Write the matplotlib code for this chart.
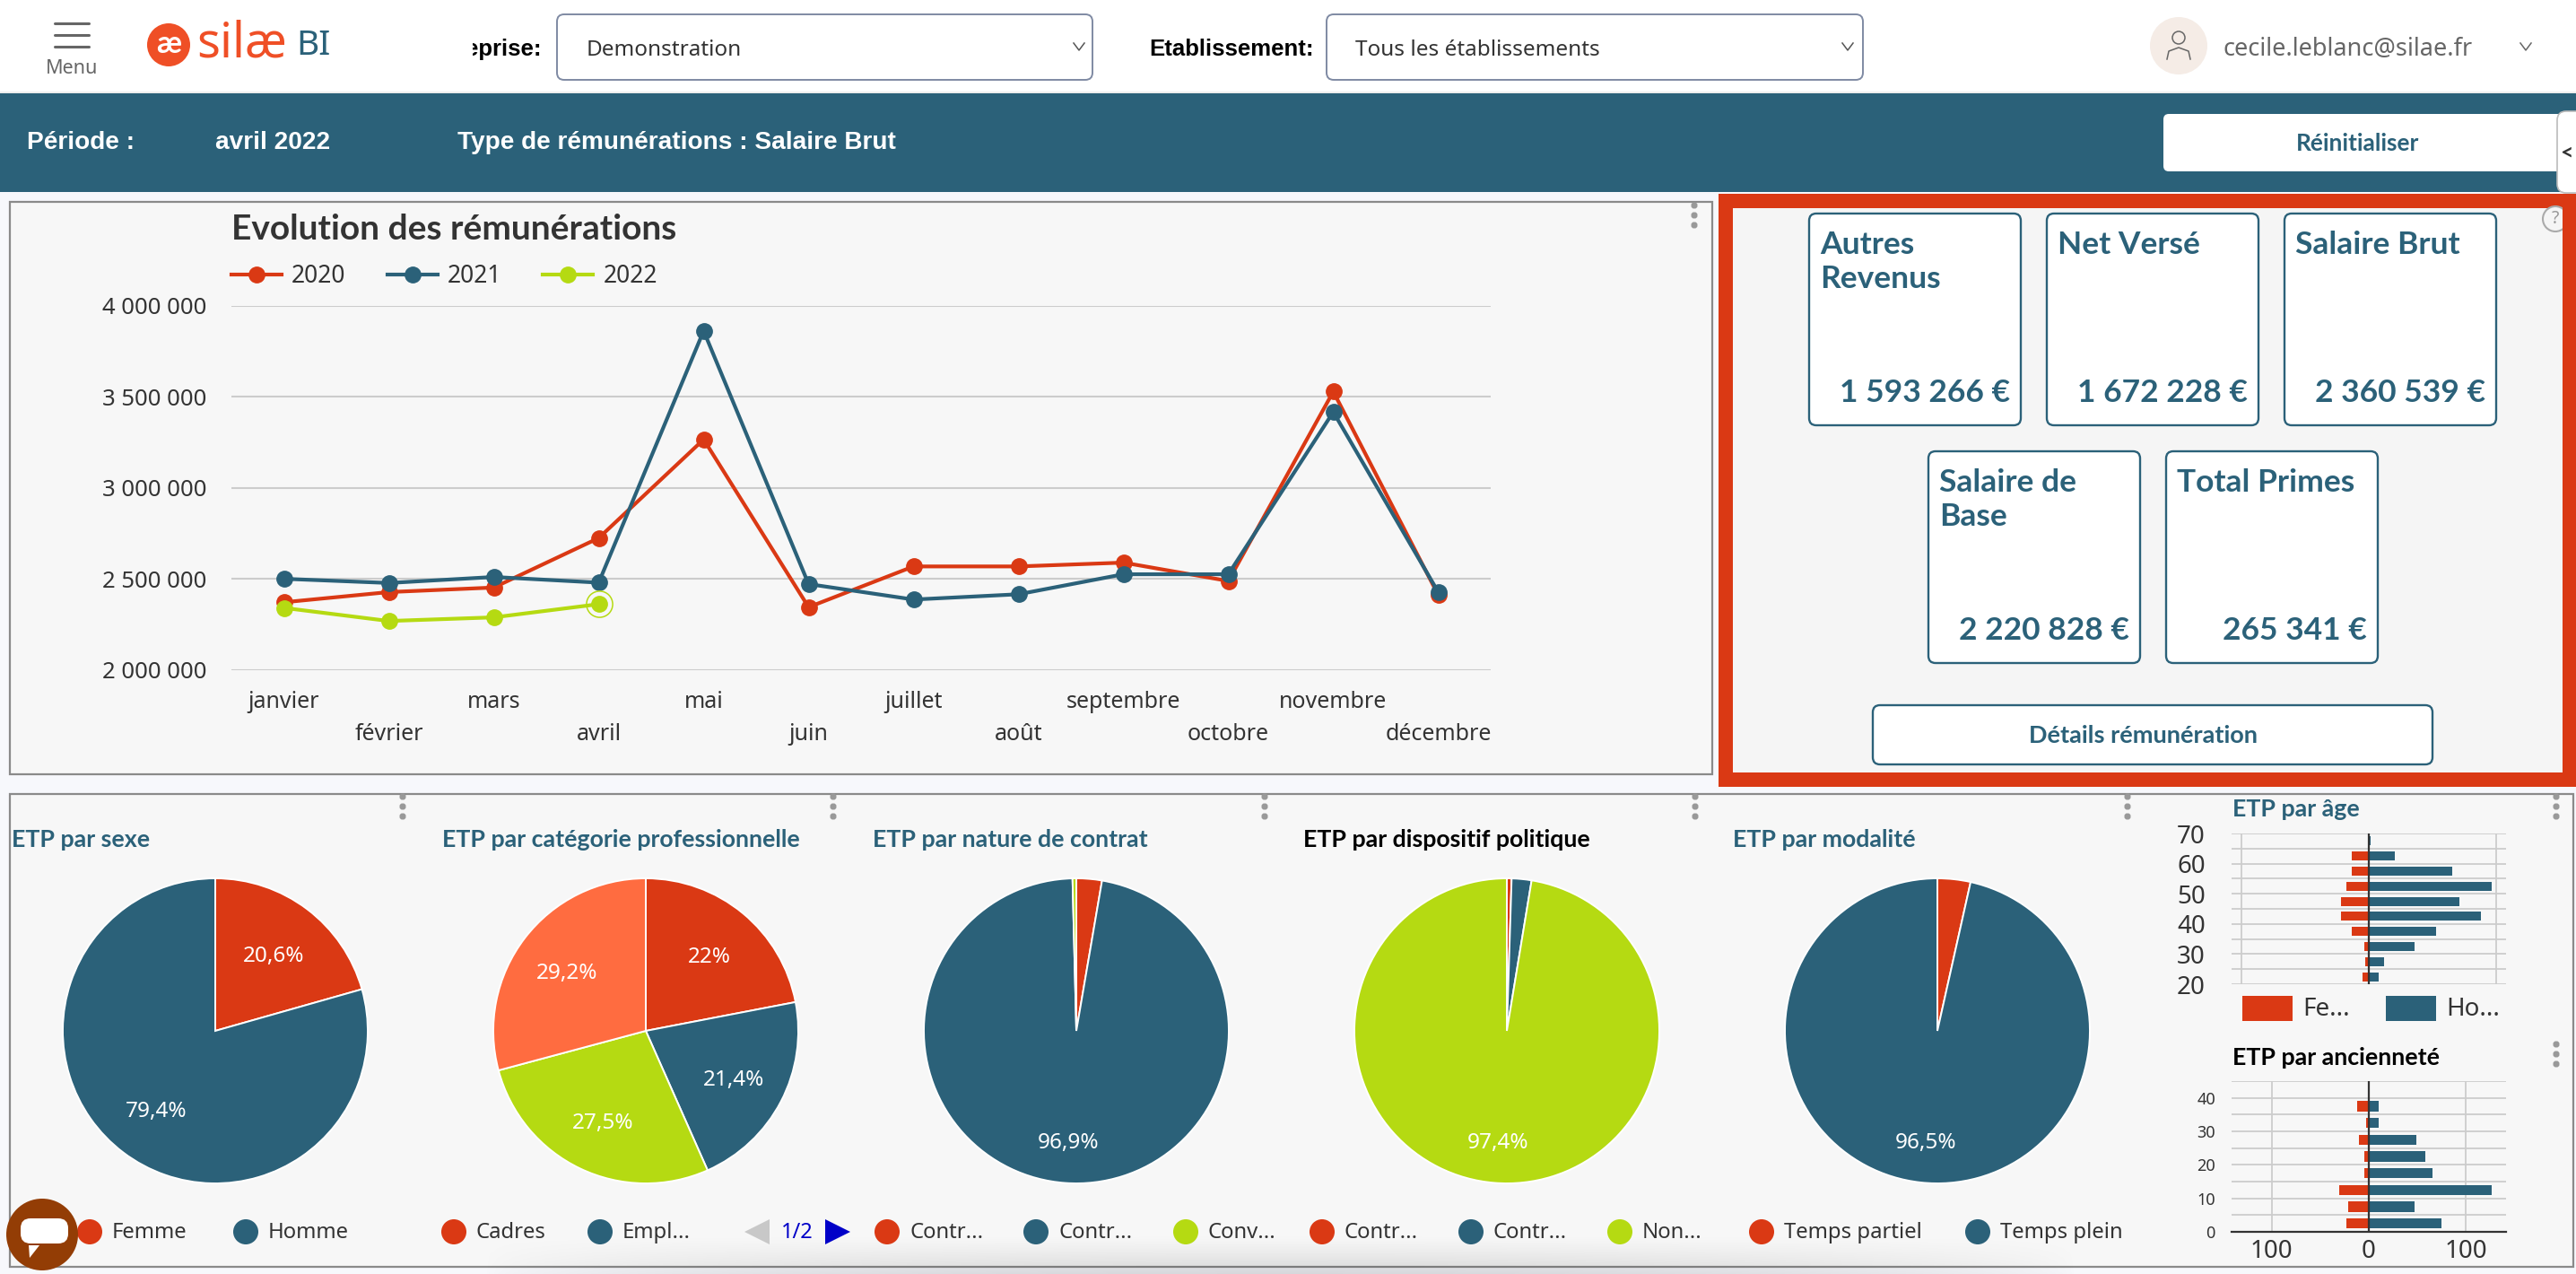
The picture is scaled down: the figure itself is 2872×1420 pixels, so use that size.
import numpy as np
import matplotlib
matplotlib.use("Agg")
import matplotlib.pyplot as plt
from matplotlib.patches import Circle, FancyBboxPatch, Polygon, Rectangle

plt.rcParams["font.family"] = ["Noto Sans", "DejaVu Sans"]

W, H = 2872, 1420

TEAL = "#2b6179"
RED = "#da3914"
GREEN = "#b5da12"
ORANGE = "#ff6c40"
DARK = "#333333"
GRID = "#cccccc"
BOLD = ["Lato", "DejaVu Sans"]

months = ["janvier", "février", "mars", "avril", "mai", "juin", "juillet", "août",
          "septembre", "octobre", "novembre", "décembre"]
remun_2020 = [2371000, 2427000, 2452000, 2724000, 3266000, 2344000, 2568000, 2568000,
              2589000, 2488000, 3529000, 2411000]
remun_2021 = [2500000, 2477000, 2510000, 2479000, 3863000, 2471000, 2386000, 2415000,
              2525000, 2525000, 3417000, 2427000]
remun_2022 = [2340000, 2268000, 2288000, 2360539]
remun_ticks = [2000000, 2500000, 3000000, 3500000, 4000000]
remun_ticklabels = ["2 000 000", "2 500 000", "3 000 000", "3 500 000", "4 000 000"]

card_titles = ["Autres\nRevenus", "Net Versé", "Salaire Brut", "Salaire de\nBase", "Total Primes"]
card_values = ["1 593 266 €", "1 672 228 €", "2 360 539 €", "2 220 828 €", "265 341 €"]

pie_titles = ["ETP par sexe", "ETP par catégorie professionnelle", "ETP par nature de contrat",
              "ETP par dispositif politique", "ETP par modalité"]
pie_sexe = [20.6, 79.4]
pie_categorie = [22, 21.4, 27.5, 29.2]
pie_contrat = [2.7, 96.9, 0.4]
pie_dispositif = [0.5, 2.1, 97.4]
pie_modalite = [3.5, 96.5]

age_bins = [22.5, 27.5, 32.5, 37.5, 42.5, 47.5, 52.5, 57.5, 62.5, 67.5]
age_femmes = [-4.9, -2.6, -3.5, -13.4, -21.8, -21.8, -17.6, -13.4, -13.4, 0]
age_hommes = [7.7, 12, 35.9, 52.8, 88, 71.1, 96.5, 65.5, 20.4, 1.4]

anc_bins = [2.5, 7.5, 12.5, 17.5, 22.5, 27.5, 32.5, 37.5]
anc_femmes = [-23.1, -21.3, -30.6, -4.6, -4.6, -10.2, -2.5, -12]
anc_hommes = [75, 47.2, 126.9, 65.7, 58.3, 49, 10.2, 10.2]


def px_axes(fig, left, top, right, bottom, zorder=2):
    # axes placed with screenshot pixels, y going down
    ax = fig.add_axes([left / W, 1 - bottom / H, (right - left) / W, (bottom - top) / H], zorder=zorder)
    ax.patch.set_alpha(0)
    return ax


def box(ax, x0, y0, x1, y1, fc="white", ec=TEAL, lw=1.6, r=8, zorder=2):
    ax.add_patch(FancyBboxPatch((x0, y0), x1 - x0, y1 - y0, boxstyle="round,pad=0,rounding_size=%d" % r,
                                fc=fc, ec=ec, lw=lw, zorder=zorder))


def kebab(ax, x, y):
    for dy in (-11, 0, 11):
        ax.add_patch(FancyBboxPatch((x - 3.5, y + dy - 3.5), 7, 7, boxstyle="round,pad=0,rounding_size=3",
                                    fc="#999999", ec="none", zorder=6))


def chevron(ax, x, y, color="#555555"):
    ax.plot([x - 6, x, x + 6], [y - 4, y + 4, y - 4], color=color, lw=1.1, zorder=5)


def draw_header(ax):
    ax.add_patch(Rectangle((0, 0), W, 102, fc="white", ec="none"))
    ax.add_patch(Rectangle((0, 102), W, 2, fc="#eeeeee", ec="none"))
    ax.add_patch(Rectangle((0, 104), W, 110, fc=TEAL, ec="none"))
    # menu
    for y in (26, 39, 52):
        ax.plot([61, 99], [y, y], color="#666666", lw=2.2, solid_capstyle="round")
    ax.text(80, 76, "Menu", fontsize=15.5, color="#666666", ha="center", va="center")
    # logo
    ax.add_patch(Circle((188, 50), 24, fc="#ef4f26", ec="none"))
    ax.text(188, 49, "æ", fontsize=25, color="white", ha="center", va="center", fontweight="bold", family=BOLD)
    ax.text(219, 49, "silæ", fontsize=39, color="#ef4f26", ha="left", va="center")
    ax.text(330, 51, "BI", fontsize=28, color=TEAL, ha="left", va="center")
    # selects
    lab = dict(fontsize=18.5, color="black", fontweight="bold", va="center", family=["Liberation Sans"])
    ax.text(604, 55, "eprise:", ha="right", zorder=2, **lab)
    # label is cut on its left in the page
    ax.add_patch(Rectangle((480, 30), 47, 50, fc="white", ec="none", zorder=3))
    box(ax, 621, 16, 1218, 89, ec="#7f8aa3", lw=1.4)
    ax.text(654, 56, "Demonstration", fontsize=17.5, color=DARK, va="center")
    chevron(ax, 1203, 52)
    ax.text(1281, 55, "Etablissement:", **lab)
    box(ax, 1479, 16, 2077, 89, ec="#7f8aa3", lw=1.4)
    ax.text(1511, 56, "Tous les établissements", fontsize=17.5, color=DARK, va="center")
    chevron(ax, 2060, 52)
    # user
    ax.add_patch(Circle((2429, 51), 32, fc="#f5ece6", ec="none"))
    ax.add_patch(Circle((2429, 42), 7, fc="none", ec="#666666", lw=1.1))
    ax.plot([2416, 2418, 2429, 2440, 2442], [66, 57, 53, 57, 66], color="#666666", lw=1.1)
    ax.text(2478, 55, "cecile.leblanc@silae.fr", fontsize=19.5, color="#666666", va="center")
    chevron(ax, 2816, 52, "#666666")
    # filter bar
    bar_font = dict(fontsize=20.2, color="white", fontweight="bold", va="center", family=["Liberation Sans"])
    ax.text(30, 159, "Période :", **bar_font)
    ax.text(240, 159, "avril 2022", **bar_font)
    ax.text(510, 159, "Type de rémunérations : Salaire Brut", **bar_font)
    box(ax, 2412, 127, 2890, 191, ec="none", lw=0, r=6)
    ax.text(2629, 160, "Réinitialiser", fontsize=19, color=TEAL, fontweight="bold", ha="center", va="center",
            family=BOLD)
    box(ax, 2851, 124, 2890, 215, ec="#bbbbbb", lw=1.2, r=10, zorder=3)
    ax.text(2861, 170, "<", fontsize=18, color=DARK, fontweight="bold", ha="center", va="center", zorder=4,
            family=BOLD)


def draw_cards(ax):
    ax.add_patch(Rectangle((1916, 216), W - 1916, 661, fc=RED, ec="none"))
    ax.add_patch(Rectangle((1932, 232), 2857 - 1932, 629, fc="#f5f5f5", ec="none"))
    xs = [2017, 2282, 2547, 2150, 2415]
    ys = [238, 238, 238, 503, 503]
    for x, y, title, value in zip(xs, ys, card_titles, card_values):
        box(ax, x, y, x + 236, y + 236, lw=1.7)
        ax.text(x + 12, y + 19, title, fontsize=25.5, color=TEAL, fontweight="bold", va="top", linespacing=1.22,
                family=BOLD)
        ax.text(x + 224, y + 200, value, fontsize=25.5, color=TEAL, fontweight="bold", ha="right", va="center",
                family=BOLD)
    box(ax, 2088, 786, 2712, 852, lw=1.7)
    ax.text(2390, 820, "Détails rémunération", fontsize=19.5, color=TEAL, fontweight="bold", ha="center",
            va="center", family=BOLD)
    ax.add_patch(Circle((2849, 244), 14, fc="#f5f5f5", ec="#aaaaaa", lw=1.5, zorder=3))
    ax.text(2849, 244, "?", fontsize=14, color="#999999", ha="center", va="center", zorder=4)
    # the frame cuts the help icon on its right side
    ax.add_patch(Rectangle((2857, 216), W - 2857, 661, fc=RED, ec="none", zorder=5))


def draw_line_chart(fig):
    ax = px_axes(fig, 258, 341, 1662, 746.5)
    x = np.arange(len(months))
    style = dict(marker="o", ms=12.5, lw=3, clip_on=False)
    ax.plot(x, remun_2020, color=RED, label="2020", zorder=3, **style)
    ax.plot(x, remun_2021, color=TEAL, label="2021", zorder=4, **style)
    ax.plot(x[:len(remun_2022)], remun_2022, color=GREEN, label="2022", zorder=5, **style)
    # hovered point of 2022
    ax.plot(x[len(remun_2022) - 1], remun_2022[-1], marker="o", ms=21, mfc="none", mec=GREEN, mew=1.1,
            ls="none", zorder=5, clip_on=False)
    ax.set_xlim(-0.5, 11.5)
    ax.set_ylim(2000000, 4000000)
    ax.set_yticks(remun_ticks)
    ax.set_yticklabels(remun_ticklabels, fontsize=18.5, color=DARK)
    ax.set_xticks(x)
    labels = [m if i % 2 == 0 else "\n" + m for i, m in enumerate(months)]
    ax.set_xticklabels(labels, fontsize=18, color=DARK, linespacing=1.55, va="top")
    ax.tick_params(axis="both", length=0)
    ax.tick_params(axis="y", pad=20)
    ax.tick_params(axis="x", pad=17)
    ax.grid(axis="y", color=GRID, lw=1.5)
    ax.set_axisbelow(True)
    for s in ax.spines.values():
        s.set_visible(False)
    leg = ax.legend(loc="lower left", bbox_to_anchor=(0, 1.047), ncol=3, frameon=False, fontsize=19,
                    borderpad=0, borderaxespad=0, handlelength=2.12, handletextpad=0.42, columnspacing=1.75)
    for t in leg.get_texts():
        t.set_color(DARK)
    ax.set_title("Evolution des rémunérations", loc="left", fontsize=28, fontweight="bold", color=DARK, pad=53,
                 family=BOLD)


def pct_label(p):
    if p < 5:
        return ""
    txt = "%.1f" % p
    return txt.replace(".0", "").replace(".", ",") + "%"


def draw_pie(fig, cx, values, colors, dist):
    r = 170
    cy = 1149
    ax = px_axes(fig, cx - r, cy - r, cx + r, cy + r)
    _, _, autotexts = ax.pie(values, colors=colors, startangle=90, counterclock=False, radius=1,
                             autopct=pct_label, pctdistance=dist,
                             wedgeprops=dict(edgecolor="white", linewidth=1.4))
    for t in autotexts:
        t.set_color("white")
        t.set_fontsize(17.5)
        t.set_y(t.get_position()[1] - 0.02)
    ax.set_xlim(-1, 1)
    ax.set_ylim(-1, 1)


def draw_bars(fig, top, bottom, bins, women, men, xlim, ylim, ticks, pad, fsize, show_x):
    ax = px_axes(fig, 2488, top, 2794, bottom)
    ax.barh(bins, women, height=3, color=RED, zorder=2)
    ax.barh(bins, men, height=3, color=TEAL, zorder=2)
    ax.axvline(0, color=DARK, lw=1.6, zorder=3)
    ax.set_xlim(*xlim)
    ax.set_ylim(*ylim)
    ax.set_yticks(np.arange(ylim[0], ylim[1] + 1, 5), minor=True)
    ax.set_yticks(ticks)
    ax.set_yticklabels([str(t) for t in ticks], fontsize=fsize, color=DARK)
    ax.set_xticks([-100, 0, 100])
    ax.set_xticklabels(["100", "0", "100"] if show_x else [], fontsize=20, color=DARK)
    ax.tick_params(which="both", length=0)
    ax.tick_params(axis="y", pad=pad)
    ax.tick_params(axis="x", pad=6)
    ax.grid(axis="y", which="both", color=GRID, lw=1.3, zorder=1)
    ax.grid(axis="x", color=GRID, lw=1.3, zorder=1)
    ax.set_axisbelow(True)
    for s in ax.spines.values():
        s.set_visible(False)
    if show_x:
        ax.spines["bottom"].set_visible(True)
        ax.spines["bottom"].set_color(DARK)
        ax.spines["bottom"].set_linewidth(1.6)


def draw_bottom_panel(ax):
    ax.add_patch(Rectangle((11, 885), 2858, 527, fc="#f7f7f7", ec="#8a8a8a", lw=1.6))
    title_x = [13, 493, 973, 1453, 1932]
    title_c = [TEAL, TEAL, TEAL, "black", TEAL]
    for x, t, c in zip(title_x, pie_titles, title_c):
        ax.text(x, 936, t, fontsize=19.3, fontweight="bold", color=c, va="center", family=BOLD)
    ax.text(2489, 902, "ETP par âge", fontsize=19.3, fontweight="bold", color=TEAL, va="center", family=BOLD)
    ax.text(2489, 1179, "ETP par ancienneté", fontsize=19.3, fontweight="bold", color="black", va="center", family=BOLD)
    # pie legends
    legend_dots = [100, 274, 506, 669, 989, 1155, 1322, 1474, 1640, 1806, 1964, 2205]
    legend_text = ["Femme", "Homme", "Cadres", "Empl...", "Contr...", "Contr...", "Conv...", "Contr...",
                   "Contr...", "Non...", "Temps partiel", "Temps plein"]
    legend_col = [RED, TEAL, RED, TEAL, RED, TEAL, GREEN, RED, TEAL, GREEN, RED, TEAL]
    for x, t, c in zip(legend_dots, legend_text, legend_col):
        ax.add_patch(Circle((x, 1373), 14, fc=c, ec="none", zorder=3))
        ax.text(x + 25, 1374, t, fontsize=17.2, color=DARK, va="center", zorder=3)
    ax.add_patch(Polygon([[830, 1373], [858, 1359], [858, 1387]], fc="#c8c8c8", ec="none", zorder=3))
    ax.text(889, 1374, "1/2", fontsize=17, color="#0000c8", ha="center", va="center", zorder=3)
    ax.add_patch(Polygon([[920, 1359], [920, 1387], [948, 1373]], fc="#0000c8", ec="none", zorder=3))
    # age legend
    ax.add_patch(Rectangle((2500, 1110), 56, 28, fc=RED, ec="none", zorder=3))
    ax.text(2567, 1125, "Fe...", fontsize=20, color=DARK, va="center", zorder=3)
    ax.add_patch(Rectangle((2660, 1110), 56, 28, fc=TEAL, ec="none", zorder=3))
    ax.text(2727, 1125, "Ho...", fontsize=20, color=DARK, va="center", zorder=3)
    for x, y in [(449, 899), (929, 899), (1410, 899), (1890, 899), (2372, 899), (2850, 899), (2850, 1175)]:
        kebab(ax, x, y)


def main():
    fig = plt.figure(figsize=(W / 100, H / 100), dpi=100, facecolor="#f7f8fc")
    bg = fig.add_axes([0, 0, 1, 1], zorder=0)
    bg.set_xlim(0, W)
    bg.set_ylim(H, 0)
    bg.axis("off")

    draw_header(bg)
    bg.add_patch(Rectangle((11, 225), 1898, 638, fc="#f7f7f7", ec="#8a8a8a", lw=1.6))
    kebab(bg, 1889, 240)
    draw_cards(bg)
    draw_bottom_panel(bg)

    # soft shadow along the bottom of the page
    yy, xx = np.mgrid[0:1:40j, 0:1:200j]
    alpha = yy ** 1.3 * np.sin(np.pi * xx) ** 0.6 * 0.13
    shadow = np.zeros((40, 200, 4))
    shadow[..., 3] = alpha
    bg.imshow(shadow, extent=(535, 2320, 1420, 1375), aspect="auto", zorder=2.5)
    bg.set_xlim(0, W)
    bg.set_ylim(H, 0)

    draw_line_chart(fig)
    draw_pie(fig, 240, pie_sexe, [RED, TEAL], 0.64)
    draw_pie(fig, 720, pie_categorie, [RED, TEAL, GREEN, ORANGE], 0.65)
    draw_pie(fig, 1200, pie_contrat, [RED, TEAL, GREEN], 0.72)
    draw_pie(fig, 1680, pie_dispositif, [RED, TEAL, GREEN], 0.72)
    draw_pie(fig, 2160, pie_modalite, [RED, TEAL], 0.72)

    draw_bars(fig, 929, 1097, age_bins, age_femmes, age_hommes, (-107.5, 107.7), (20, 70),
              [20, 30, 40, 50, 60, 70], 21, 20, False)
    draw_bars(fig, 1205, 1373, anc_bins, anc_femmes, anc_hommes, (-141.4, 141.7), (0, 45),
              [0, 10, 20, 30, 40], 13, 13, True)

    # chat bubble sits on top of everything
    top = fig.add_axes([0, 0, 1, 1], zorder=8)
    top.set_xlim(0, W)
    top.set_ylim(H, 0)
    top.axis("off")
    top.add_patch(Circle((47, 1376), 40, fc="#933d05", ec="none"))
    box(top, 23, 1358, 76, 1386, ec="none", lw=0, r=11)
    top.add_patch(Polygon([[32, 1388], [44, 1388], [33, 1402]], fc="white", ec="none"))

    fig.savefig("out.png", dpi=100, facecolor=fig.get_facecolor())


if __name__ == "__main__":
    main()
